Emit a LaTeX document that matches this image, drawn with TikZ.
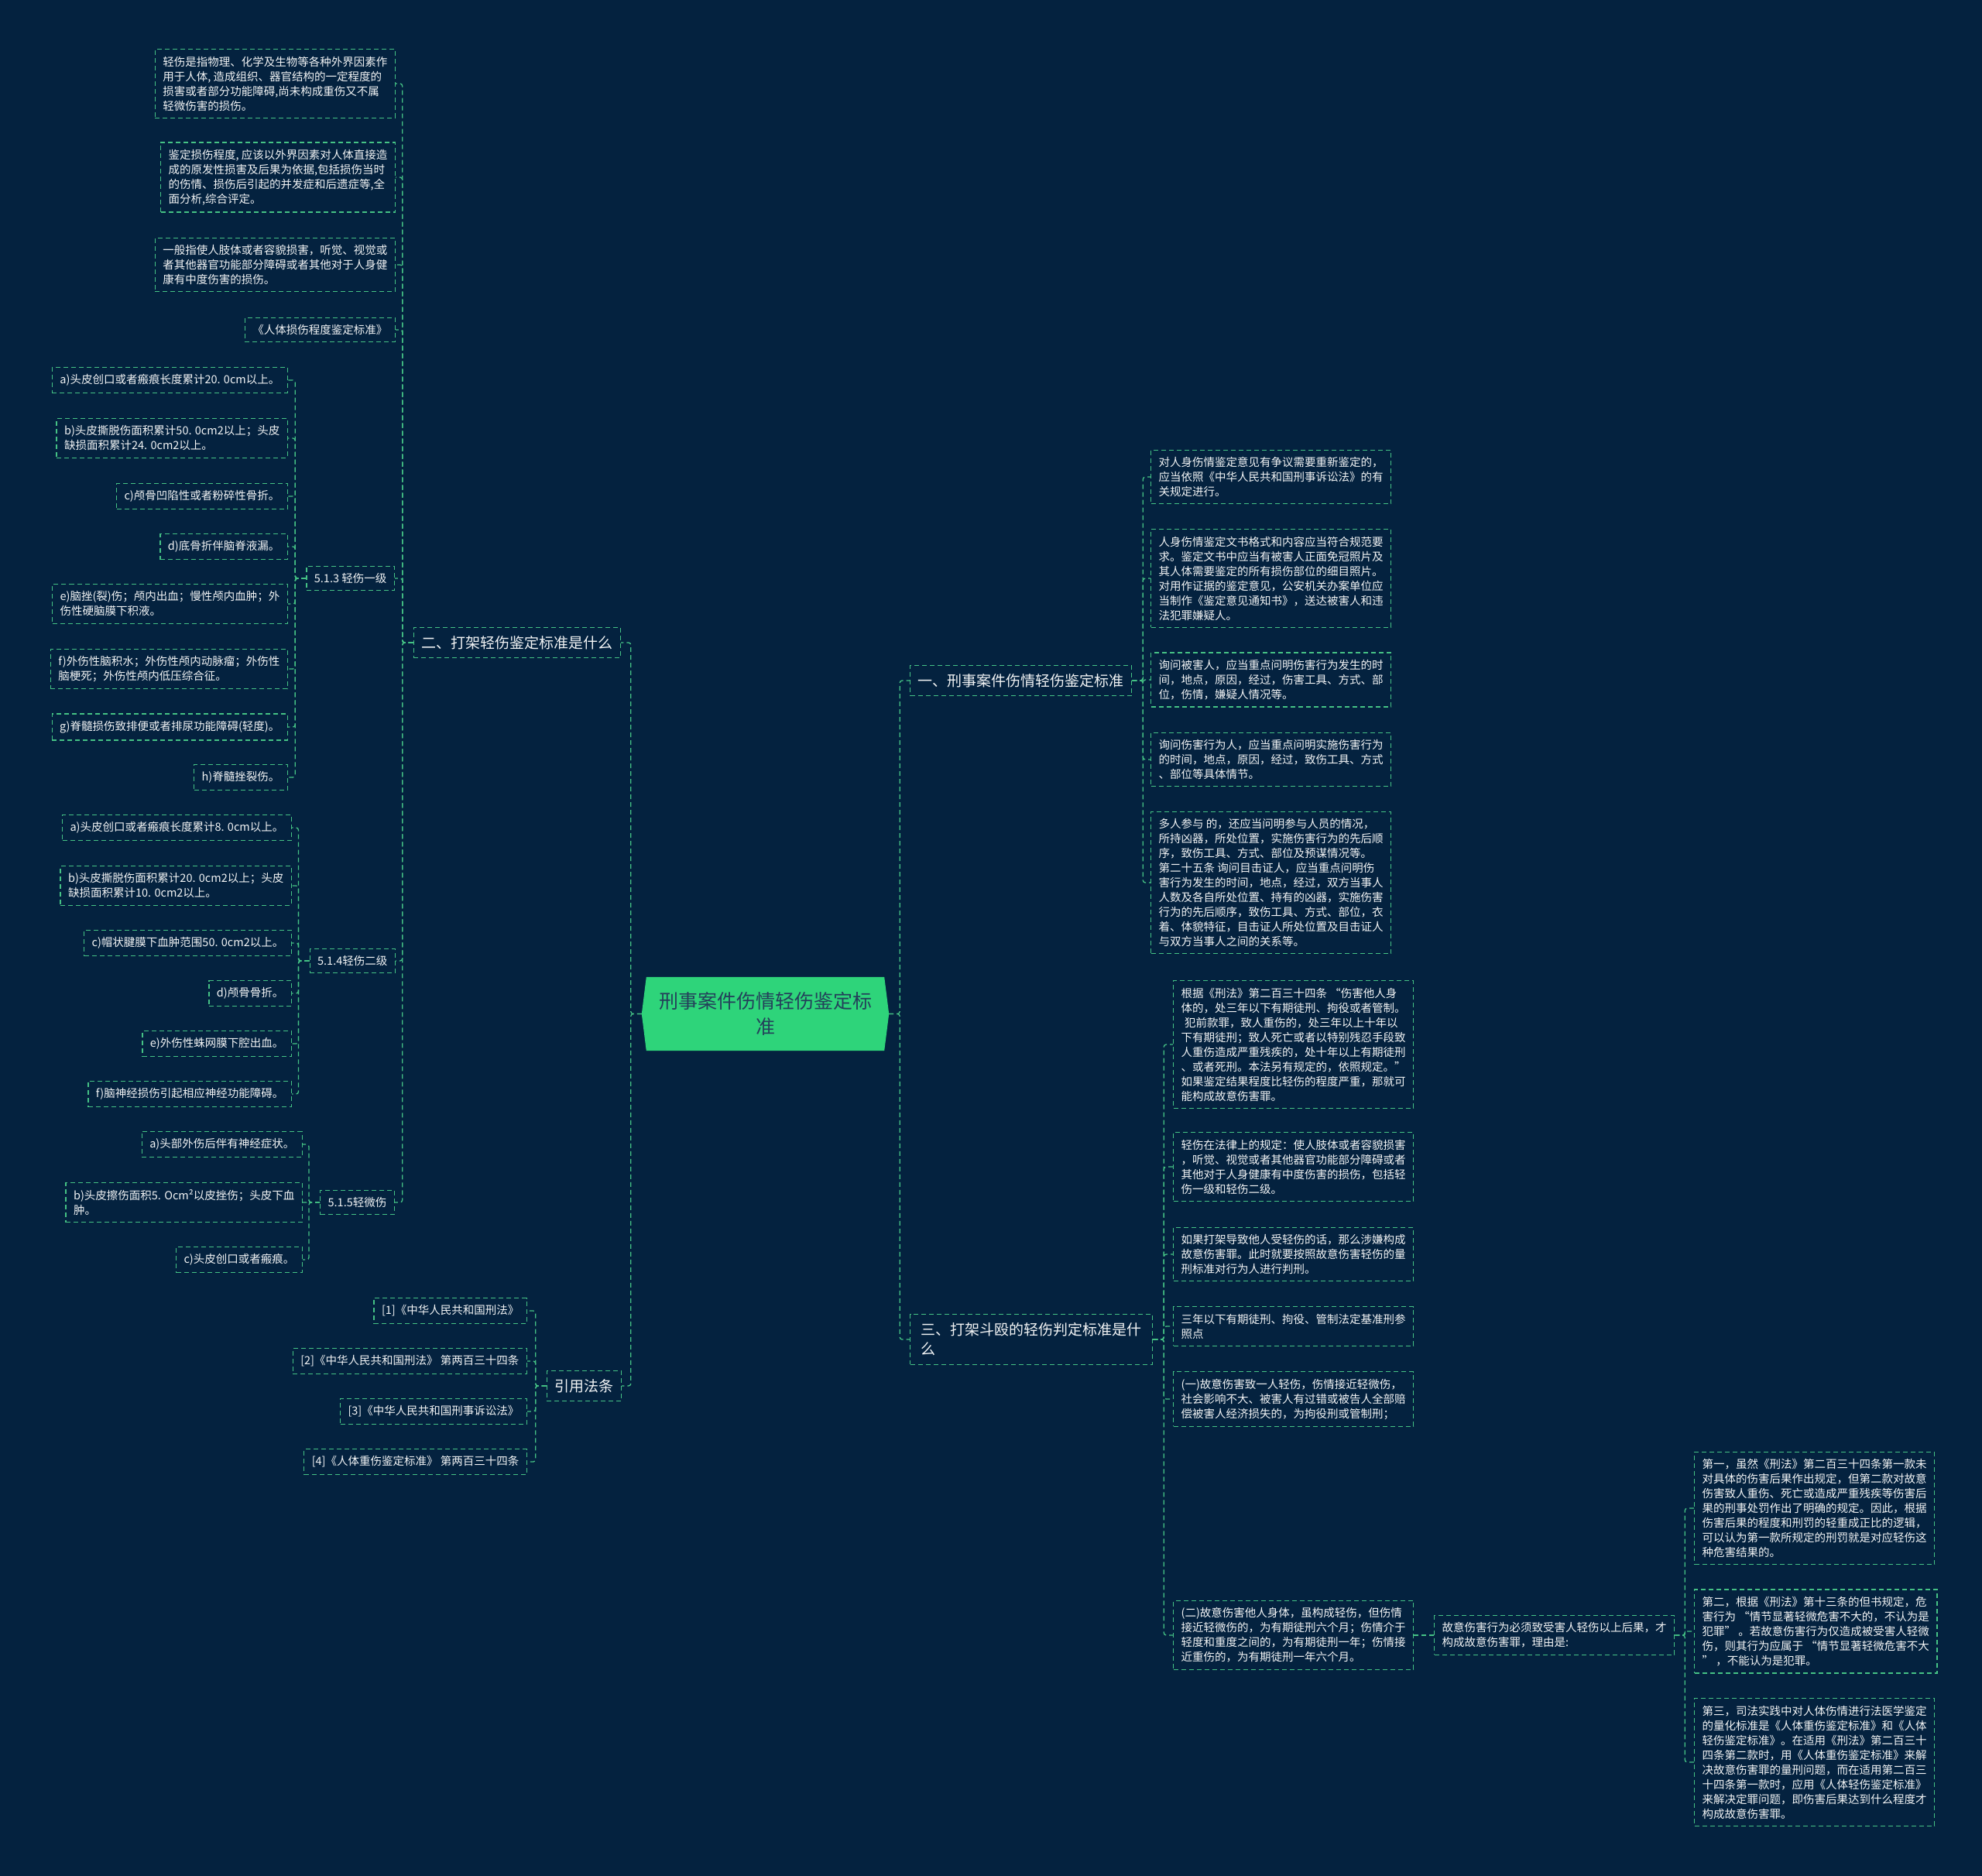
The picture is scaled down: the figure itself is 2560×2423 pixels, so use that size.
\documentclass[tikz,border=0pt]{standalone}
\usepackage{fontspec}
\setmainfont{Noto Sans CJK SC}
\usetikzlibrary{backgrounds}
\definecolor{mapnavy}{HTML}{04223F}
\definecolor{mapgreen}{HTML}{45C285}
\definecolor{rootgreen}{HTML}{2ED47A}
\definecolor{rootink}{HTML}{24405A}
\definecolor{textwhite}{HTML}{F2F4F5}

\begin{document}
\begin{tikzpicture}[
    x=1pt, y=-1pt,
    every node/.style={text=textwhite},
    box/.style={draw=mapgreen, line width=1.3pt, dash pattern=on 6pt off 4pt, align=left},
    leaf/.style={box, font=\fontsize{14.5}{19}\selectfont, inner xsep=10pt, inner ysep=9pt},
    branch/.style={box, font=\fontsize{19}{25}\selectfont, inner xsep=10pt, inner ysep=11pt},
    root/.style={text=rootink, font=\fontsize{25}{33}\selectfont, align=center, minimum width=319pt, minimum height=95pt},
    link/.style={draw=mapgreen, line width=1.3pt, dash pattern=on 6pt off 4pt, rounded corners=3pt},
]

\useasboundingbox (0,0) rectangle (2560,2423);

% Root
\node[root] (root) at (988.5,1309.5) {刑事案件伤情轻伤鉴定标\\准};

% --- Left: 二 ---
\node[branch, anchor=east] (two) at (802,830) {二、打架轻伤鉴定标准是什么};

\node[leaf, anchor=east] (def) at (511,108) {轻伤是指物理、化学及生物等各种外界因素作\\用于人体, 造成组织、器官结构的一定程度的\\损害或者部分功能障碍,尚未构成重伤又不属\\轻微伤害的损伤。};
\node[leaf, anchor=east] (basis) at (511,229) {鉴定损伤程度, 应该以外界因素对人体直接造\\成的原发性损害及后果为依据,包括损伤当时\\的伤情、损伤后引起的并发症和后遗症等,全\\面分析,综合评定。};
\node[leaf, anchor=east] (general) at (511,342) {一般指使人肢体或者容貌损害，听觉、视觉或\\者其他器官功能部分障碍或者其他对于人身健\\康有中度伤害的损伤。};
\node[leaf, anchor=east] (stdbook) at (511,426) {《人体损伤程度鉴定标准》};

% 5.1.3
\node[leaf, anchor=east] (gradeA) at (510,747) {5.1.3 轻伤一级};
\node[leaf, anchor=east] (oneA) at (372,491) {a)头皮创口或者瘢痕长度累计20. 0cm以上。};
\node[leaf, anchor=east] (oneB) at (372,566) {b)头皮撕脱伤面积累计50. 0cm2以上；头皮\\缺损面积累计24. 0cm2以上。};
\node[leaf, anchor=east] (oneC) at (372,641) {c)颅骨凹陷性或者粉碎性骨折。};
\node[leaf, anchor=east] (oneD) at (372,706) {d)底骨折伴脑脊液漏。};
\node[leaf, anchor=east] (oneE) at (372,780) {e)脑挫(裂)伤；颅内出血；慢性颅内血肿；外\\伤性硬脑膜下积液。};
\node[leaf, anchor=east] (oneF) at (372,864) {f)外伤性脑积水；外伤性颅内动脉瘤；外伤性\\脑梗死；外伤性颅内低压综合征。};
\node[leaf, anchor=east] (oneG) at (372,939) {g)脊髓损伤致排便或者排尿功能障碍(轻度)。};
\node[leaf, anchor=east] (oneH) at (372,1004) {h)脊髓挫裂伤。};

% 5.1.4
\node[leaf, anchor=east] (gradeB) at (511,1241) {5.1.4轻伤二级};
\node[leaf, anchor=east] (twoA) at (377,1069) {a)头皮创口或者瘢痕长度累计8. 0cm以上。};
\node[leaf, anchor=east] (twoB) at (377,1144) {b)头皮撕脱伤面积累计20. 0cm2以上；头皮\\缺损面积累计10. 0cm2以上。};
\node[leaf, anchor=east] (twoC) at (377,1218) {c)帽状腱膜下血肿范围50. 0cm2以上。};
\node[leaf, anchor=east] (twoD) at (377,1283) {d)颅骨骨折。};
\node[leaf, anchor=east] (twoE) at (377,1348) {e)外伤性蛛网膜下腔出血。};
\node[leaf, anchor=east] (twoF) at (377,1413) {f)脑神经损伤引起相应神经功能障碍。};

% 5.1.5
\node[leaf, anchor=east] (gradeC) at (510,1553) {5.1.5轻微伤};
\node[leaf, anchor=east] (minA) at (391,1478) {a)头部外伤后伴有神经症状。};
\node[leaf, anchor=east] (minB) at (391,1553) {b)头皮擦伤面积5. Ocm²以皮挫伤；头皮下血\\肿。};
\node[leaf, anchor=east] (minC) at (391,1627) {c)头皮创口或者瘢痕。};

% --- Left: 引用法条 ---
\node[branch, anchor=east] (cite) at (803,1790) {引用法条};
\node[leaf, anchor=east] (ref1) at (681,1693) {[1]《中华人民共和国刑法》};
\node[leaf, anchor=east] (ref2) at (681,1758) {[2]《中华人民共和国刑法》 第两百三十四条};
\node[leaf, anchor=east] (ref3) at (681,1823) {[3]《中华人民共和国刑事诉讼法》};
\node[leaf, anchor=east] (ref4) at (681,1888) {[4]《人体重伤鉴定标准》 第两百三十四条};

% --- Right: 一 ---
\node[branch, anchor=west] (one) at (1175,879) {一、刑事案件伤情轻伤鉴定标准};
\node[leaf, anchor=west] (q1) at (1486,616) {对人身伤情鉴定意见有争议需要重新鉴定的，\\应当依照《中华人民共和国刑事诉讼法》的有\\关规定进行。};
\node[leaf, anchor=west] (q2) at (1486,747) {人身伤情鉴定文书格式和内容应当符合规范要\\求。鉴定文书中应当有被害人正面免冠照片及\\其人体需要鉴定的所有损伤部位的细目照片。\\对用作证据的鉴定意见，公安机关办案单位应\\当制作《鉴定意见通知书》，送达被害人和违\\法犯罪嫌疑人。};
\node[leaf, anchor=west] (q3) at (1486,878) {询问被害人，应当重点问明伤害行为发生的时\\间，地点，原因，经过，伤害工具、方式、部\\位，伤情，嫌疑人情况等。};
\node[leaf, anchor=west] (q4) at (1486,981) {询问伤害行为人，应当重点问明实施伤害行为\\的时间，地点，原因，经过，致伤工具、方式\\、部位等具体情节。};
\node[leaf, anchor=west] (q5) at (1486,1140) {多人参与 的，还应当问明参与人员的情况，\\所持凶器，所处位置，实施伤害行为的先后顺\\序，致伤工具、方式、部位及预谋情况等。\\第二十五条 询问目击证人，应当重点问明伤\\害行为发生的时间，地点，经过，双方当事人\\人数及各自所处位置、持有的凶器，实施伤害\\行为的先后顺序，致伤工具、方式、部位，衣\\着、体貌特征，目击证人所处位置及目击证人\\与双方当事人之间的关系等。};

% --- Right: 三 ---
\node[branch, anchor=west, minimum width=313pt] (three) at (1175,1730) {三、打架斗殴的轻伤判定标准是什\\么};
\node[leaf, anchor=west] (r1) at (1515,1349) {根据《刑法》第二百三十四条 “伤害他人身\\体的，处三年以下有期徒刑、拘役或者管制。\\\hspace*{0.3em}犯前款罪，致人重伤的，处三年以上十年以\\下有期徒刑；致人死亡或者以特别残忍手段致\\人重伤造成严重残疾的，处十年以上有期徒刑\\、或者死刑。本法另有规定的，依照规定。”\\如果鉴定结果程度比轻伤的程度严重，那就可\\能构成故意伤害罪。};
\node[leaf, anchor=west] (r2) at (1515,1507) {轻伤在法律上的规定：使人肢体或者容貌损害\\，听觉、视觉或者其他器官功能部分障碍或者\\其他对于人身健康有中度伤害的损伤，包括轻\\伤一级和轻伤二级。};
\node[leaf, anchor=west] (r3) at (1515,1620) {如果打架导致他人受轻伤的话，那么涉嫌构成\\故意伤害罪。此时就要按照故意伤害轻伤的量\\刑标准对行为人进行判刑。};
\node[leaf, anchor=west] (r4) at (1515,1713) {三年以下有期徒刑、拘役、管制法定基准刑参\\照点};
\node[leaf, anchor=west] (r5) at (1515,1807) {(一)故意伤害致一人轻伤，伤情接近轻微伤，\\社会影响不大、被害人有过错或被告人全部赔\\偿被害人经济损失的，为拘役刑或管制刑；};
\node[leaf, anchor=west] (r6) at (1515,2112) {(二)故意伤害他人身体，虽构成轻伤，但伤情\\接近轻微伤的，为有期徒刑六个月；伤情介于\\轻度和重度之间的，为有期徒刑一年；伤情接\\近重伤的，为有期徒刑一年六个月。};

\node[leaf, anchor=west] (why) at (1852,2112) {故意伤害行为必须致受害人轻伤以上后果，才\\构成故意伤害罪，理由是:};
\node[leaf, anchor=west] (why1) at (2188,1948) {第一，虽然《刑法》第二百三十四条第一款未\\对具体的伤害后果作出规定，但第二款对故意\\伤害致人重伤、死亡或造成严重残疾等伤害后\\果的刑事处罚作出了明确的规定。因此，根据\\伤害后果的程度和刑罚的轻重成正比的逻辑，\\可以认为第一款所规定的刑罚就是对应轻伤这\\种危害结果的。};
\node[leaf, anchor=west] (why2) at (2188,2107) {第二，根据《刑法》第十三条的但书规定，危\\害行为 “情节显著轻微危害不大的，不认为是\\犯罪” 。若故意伤害行为仅造成被受害人轻微\\伤，则其行为应属于 “情节显著轻微危害不大\\” ，不能认为是犯罪。};
\node[leaf, anchor=west] (why3) at (2188,2276) {第三，司法实践中对人体伤情进行法医学鉴定\\的量化标准是《人体重伤鉴定标准》和《人体\\轻伤鉴定标准》。在适用《刑法》第二百三十\\四条第二款时，用《人体重伤鉴定标准》来解\\决故意伤害罪的量刑问题，而在适用第二百三\\十四条第一款时，应用《人体轻伤鉴定标准》\\来解决定罪问题，即伤害后果达到什么程度才\\构成故意伤害罪。};

% Background and root shape
\begin{scope}[on background layer]
\fill[mapnavy] (0,0) rectangle (2560,2423);
\fill[rootgreen] (root.west) -- ([xshift=6pt]root.north west) -- ([xshift=-6pt]root.north east)
    -- (root.east) -- ([xshift=-6pt]root.south east) -- ([xshift=6pt]root.south west) -- cycle;
\end{scope}

% --- Connectors ---
\draw[link] (root.east) -- ++(14,0) |- (one.west);
\draw[link] (root.east) -- ++(14,0) |- (three.west);
\draw[link] (root.west) -- ++(-14,0) |- (two.east);
\draw[link] (root.west) -- ++(-14,0) |- (cite.east);

\draw[link] (two.west) -- ++(-14,0) |- (def.east);
\draw[link] (two.west) -- ++(-14,0) |- (basis.east);
\draw[link] (two.west) -- ++(-14,0) |- (general.east);
\draw[link] (two.west) -- ++(-14,0) |- (stdbook.east);
\draw[link] (two.west) -- ++(-14,0) |- (gradeA.east);
\draw[link] (two.west) -- ++(-14,0) |- (gradeB.east);
\draw[link] (two.west) -- ++(-14,0) |- (gradeC.east);

\draw[link] (gradeA.west) -- ++(-14,0) |- (oneA.east);
\draw[link] (gradeA.west) -- ++(-14,0) |- (oneB.east);
\draw[link] (gradeA.west) -- ++(-14,0) |- (oneC.east);
\draw[link] (gradeA.west) -- ++(-14,0) |- (oneD.east);
\draw[link] (gradeA.west) -- ++(-14,0) |- (oneE.east);
\draw[link] (gradeA.west) -- ++(-14,0) |- (oneF.east);
\draw[link] (gradeA.west) -- ++(-14,0) |- (oneG.east);
\draw[link] (gradeA.west) -- ++(-14,0) |- (oneH.east);

\draw[link] (gradeB.west) -- ++(-14,0) |- (twoA.east);
\draw[link] (gradeB.west) -- ++(-14,0) |- (twoB.east);
\draw[link] (gradeB.west) -- ++(-14,0) |- (twoC.east);
\draw[link] (gradeB.west) -- ++(-14,0) |- (twoD.east);
\draw[link] (gradeB.west) -- ++(-14,0) |- (twoE.east);
\draw[link] (gradeB.west) -- ++(-14,0) |- (twoF.east);

\draw[link] (gradeC.west) -- ++(-14,0) |- (minA.east);
\draw[link] (gradeC.west) -- ++(-14,0) |- (minB.east);
\draw[link] (gradeC.west) -- ++(-14,0) |- (minC.east);

\draw[link] (cite.west) -- ++(-14,0) |- (ref1.east);
\draw[link] (cite.west) -- ++(-14,0) |- (ref2.east);
\draw[link] (cite.west) -- ++(-14,0) |- (ref3.east);
\draw[link] (cite.west) -- ++(-14,0) |- (ref4.east);

\draw[link] (one.east) -- ++(14,0) |- (q1.west);
\draw[link] (one.east) -- ++(14,0) |- (q2.west);
\draw[link] (one.east) -- ++(14,0) |- (q3.west);
\draw[link] (one.east) -- ++(14,0) |- (q4.west);
\draw[link] (one.east) -- ++(14,0) |- (q5.west);

\draw[link] (three.east) -- ++(14,0) |- (r1.west);
\draw[link] (three.east) -- ++(14,0) |- (r2.west);
\draw[link] (three.east) -- ++(14,0) |- (r3.west);
\draw[link] (three.east) -- ++(14,0) |- (r4.west);
\draw[link] (three.east) -- ++(14,0) |- (r5.west);
\draw[link] (three.east) -- ++(14,0) |- (r6.west);

\draw[link] (r6.east) -- (why.west);
\draw[link] (why.east) -- ++(13,0) |- (why1.west);
\draw[link] (why.east) -- ++(13,0) |- (why2.west);
\draw[link] (why.east) -- ++(13,0) |- (why3.west);

\end{tikzpicture}
\end{document}
